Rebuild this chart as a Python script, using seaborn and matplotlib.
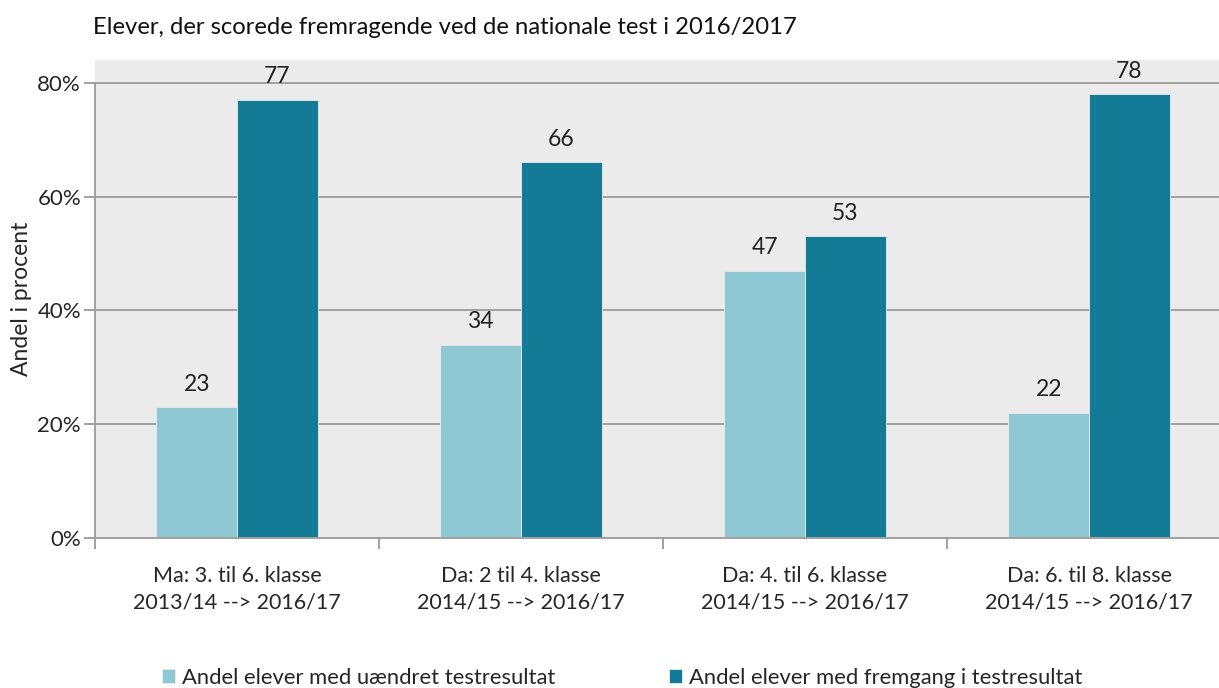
import seaborn as sns
import numpy as np
import matplotlib.pyplot as plt
import pandas as pd
from matplotlib.ticker import PercentFormatter

# data
categories = ["Ma: 3. til 6. klasse\n2013/14 --> 2016/17",
              "Da: 2 til 4. klasse\n2014/15 --> 2016/17",
              "Da: 4. til 6. klasse\n2014/15 --> 2016/17",
              "Da: 6. til 8. klasse\n2014/15 --> 2016/17"]
series = ["Andel elever med uændret testresultat",
          "Andel elever med fremgang i testresultat"]
unchanged = [23, 34, 47, 22]
progress = [77, 66, 53, 78]
colors = ["#8EC8D3", "#147B96"]

df = pd.DataFrame({
    "kategori": categories * 2,
    "serie": [series[0]] * 4 + [series[1]] * 4,
    "andel": unchanged + progress,
})

sns.set_theme(style="white")
plt.rcParams["font.family"] = ["Lato", "DejaVu Sans"]

fig = plt.figure(figsize=(12.19, 6.88), dpi=100)
ax = fig.add_axes([95 / 1219, 1 - 538 / 688, 1136 / 1219, 478 / 688])
ax.set_facecolor("#EBEBEB")

sns.barplot(data=df, x="kategori", y="andel", hue="serie", order=categories,
            hue_order=series, palette=colors, width=0.567, saturation=1,
            edgecolor="#EBEBEB", linewidth=0.6, ax=ax, legend=True)

for cont in ax.containers:
    ax.bar_label(cont, fmt="%d", padding=9, fontsize=16.5, color="#222222")

ax.set_xlim(-0.5, 3.5)
ax.set_ylim(0, 84)
ax.set_yticks([0, 20, 40, 60, 80])
ax.yaxis.set_major_formatter(PercentFormatter(decimals=0))
ax.grid(axis="y", color="#A0A0A0", linewidth=1.4)
ax.set_axisbelow(True)

ax.set_xticks(np.arange(-0.5, 4, 1), minor=True)
ax.set_xticks(range(4))
ax.set_xticklabels(categories, linespacing=1.45)
ax.tick_params(axis="x", which="major", length=0, pad=20, labelsize=15.5)
ax.tick_params(axis="x", which="minor", length=8, width=1.4, color="#A0A0A0",
               direction="out")
ax.tick_params(axis="y", length=8, width=1.4, color="#A0A0A0",
               direction="out", labelsize=16, pad=2)
ax.yaxis.set_ticks_position("left")
ax.xaxis.set_ticks_position("bottom")

for s in ["top", "right"]:
    ax.spines[s].set_visible(False)
for s in ["left", "bottom"]:
    ax.spines[s].set_color("#A0A0A0")
    ax.spines[s].set_linewidth(1.4)
ax.spines["left"].set_bounds(0, 80)

ax.set_xlabel("")
ax.set_ylabel("Andel i procent", fontsize=16.5, labelpad=4)

fig.text(93 / 1219, 1 - 28 / 688, "Elever, der scorede fremragende ved de nationale test i 2016/2017",
         fontsize=17.2, va="center", ha="left", color="#111111")

handles, labels = ax.get_legend_handles_labels()
ax.get_legend().remove()
fig.legend(handles, labels, loc="center left", bbox_to_anchor=(142 / 1219, 1 - 678 / 688),
           ncol=2, frameon=False, fontsize=15.8, handlelength=0.6, handleheight=0.6,
           handletextpad=0.3, columnspacing=5.2)

fig.savefig("out.png", dpi=100)
